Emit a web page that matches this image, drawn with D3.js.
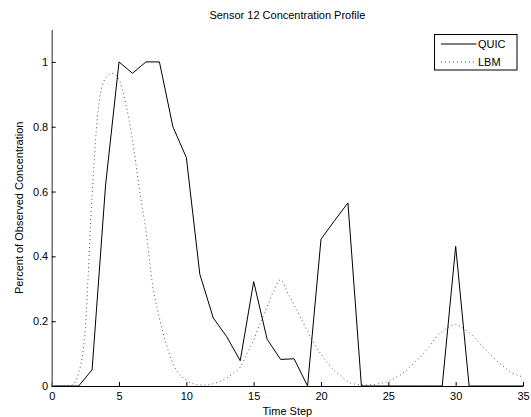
<!DOCTYPE html>
<html>
<head>
<meta charset="utf-8">
<script src="https://cdn.jsdelivr.net/npm/d3@7"></script>
<style>
  html, body { margin: 0; padding: 0; background: #fff; }
  svg { display: block; font-family: "Liberation Sans", Arial, sans-serif; }
</style>
</head>
<body>
<div id="chart"></div>
<script>
// Sensor 12 concentration profile: QUIC (solid) vs LBM (dotted).

const WIDTH = 531;
const HEIGHT = 417;
const MARGIN = { top: 29.5, right: 8, bottom: 31, left: 51.7 };

const PALETTE = {
  ink: "#000",
  axisGray: "#666",
  dotted: "#555",
};

// QUIC values at each integer time step 0..35
const quicSteps = d3.range(0, 36);
const quicValues = [
  0, 0, 0, 0.05, 0.62, 1.0, 0.965, 1.0, 1.0, 0.8,
  0.705, 0.345, 0.21, 0.152, 0.078, 0.322, 0.144, 0.082, 0.084, 0,
  0.453, 0.51, 0.565, 0, 0, 0, 0, 0, 0, 0,
  0.431, 0, 0, 0, 0, 0,
];

// LBM values read every half step 0..35
const lbmSteps = d3.range(0, 35.5, 0.5);
const lbmValues = [
  0, 0, 0, 0.003, 0.04, 0.18, 0.59, 0.87, 0.95, 0.965,
  0.945, 0.87, 0.76, 0.61, 0.48, 0.31, 0.21, 0.13, 0.07, 0.035,
  0.018, 0.007, 0.003, 0.003, 0.007, 0.014, 0.025, 0.04, 0.058, 0.1,
  0.142, 0.195, 0.245, 0.295, 0.328, 0.29, 0.25, 0.21, 0.168, 0.13,
  0.098, 0.07, 0.047, 0.03, 0.013, 0.006, 0.003, 0.003, 0.005, 0.009,
  0.014, 0.025, 0.037, 0.055, 0.075, 0.095, 0.12, 0.148, 0.168, 0.182,
  0.19, 0.18, 0.165, 0.145, 0.122, 0.1, 0.08, 0.062, 0.045, 0.035,
  0.028,
];

const xTicks = [0, 5, 10, 15, 20, 25, 30, 35];
const yTicks = [0, 0.2, 0.4, 0.6, 0.8, 1];
const yTickLabels = ["0", "0.2", "0.4", "0.6", "0.8", "1"];

const seriesNames = ["QUIC", "LBM"];

const x = d3.scaleLinear().domain([0, 35]).range([MARGIN.left, WIDTH - MARGIN.right]);
const y = d3.scaleLinear().domain([0, 1.1]).range([HEIGHT - MARGIN.bottom, MARGIN.top]);

const svg = d3
  .select("#chart")
  .append("svg")
  .attr("width", WIDTH)
  .attr("height", HEIGHT)
  .attr("viewBox", [0, 0, WIDTH, HEIGHT]);

const line = d3
  .line()
  .x((d) => x(d[0]))
  .y((d) => y(d[1]));

// LBM (dotted, smooth)
svg
  .append("path")
  .datum(lbmSteps.map((t, i) => [t, lbmValues[i]]))
  .attr("fill", "none")
  .attr("stroke", PALETTE.dotted)
  .attr("stroke-width", 1)
  .attr("stroke-dasharray", "1,3")
  .attr("d", line.curve(d3.curveMonotoneX));

// QUIC (solid, piecewise linear)
svg
  .append("path")
  .datum(quicSteps.map((t, i) => [t, quicValues[i]]))
  .attr("fill", "none")
  .attr("stroke", PALETTE.ink)
  .attr("stroke-width", 1)
  .attr("d", line.curve(d3.curveLinear));

// axes: MATLAB style, ticks pointing inward, no top/right box
svg
  .append("g")
  .attr("transform", `translate(0,${HEIGHT - MARGIN.bottom})`)
  .call(d3.axisBottom(x).tickValues(xTicks).tickSizeInner(-4).tickSizeOuter(0).tickPadding(6.5))
  .call((g) => g.select(".domain").attr("stroke", PALETTE.ink))
  .call((g) => g.selectAll(".tick line").attr("stroke", PALETTE.ink))
  .call((g) => g.selectAll("text").attr("fill", PALETTE.ink).style("font-size", "11px"));

svg
  .append("g")
  .attr("transform", `translate(${MARGIN.left},0)`)
  .call(
    d3
      .axisLeft(y)
      .tickValues(yTicks)
      .tickFormat((d, i) => yTickLabels[i])
      .tickSizeInner(-4)
      .tickSizeOuter(0)
      .tickPadding(3.5)
  )
  .call((g) => g.select(".domain").attr("stroke", PALETTE.axisGray).attr("stroke-width", 1.4))
  .call((g) => g.selectAll(".tick line").attr("stroke", PALETTE.ink))
  .call((g) => g.selectAll("text").attr("fill", PALETTE.ink).style("font-size", "11px"));

// title and axis labels
svg
  .append("text")
  .attr("x", (MARGIN.left + WIDTH - MARGIN.right) / 2)
  .attr("y", 18.5)
  .attr("text-anchor", "middle")
  .style("font-size", "11px")
  .text("Sensor 12 Concentration Profile");

svg
  .append("text")
  .attr("x", (MARGIN.left + WIDTH - MARGIN.right) / 2)
  .attr("y", 414.5)
  .attr("text-anchor", "middle")
  .style("font-size", "11px")
  .text("Time Step");

svg
  .append("text")
  .attr("transform", `translate(23.3,${(MARGIN.top + HEIGHT - MARGIN.bottom) / 2}) rotate(-90)`)
  .attr("text-anchor", "middle")
  .style("font-size", "11px")
  .text("Percent of Observed Concentration");

// legend
const legend = svg.append("g").attr("transform", "translate(434.5,34.5)");
legend
  .append("rect")
  .attr("width", 82.5)
  .attr("height", 35.5)
  .attr("fill", "#fff")
  .attr("stroke", PALETTE.ink)
  .attr("stroke-width", 1);

seriesNames.forEach((name, i) => {
  const row = legend.append("g").attr("transform", `translate(0,${9.5 + i * 18})`);
  row
    .append("line")
    .attr("x1", 6.5)
    .attr("x2", 42)
    .attr("stroke", i === 0 ? PALETTE.ink : PALETTE.dotted)
    .attr("stroke-width", 1)
    .attr("stroke-dasharray", i === 0 ? null : "1,3");
  row
    .append("text")
    .attr("x", 43.5)
    .attr("y", 4)
    .style("font-size", "11px")
    .text(name);
});
</script>
</body>
</html>
